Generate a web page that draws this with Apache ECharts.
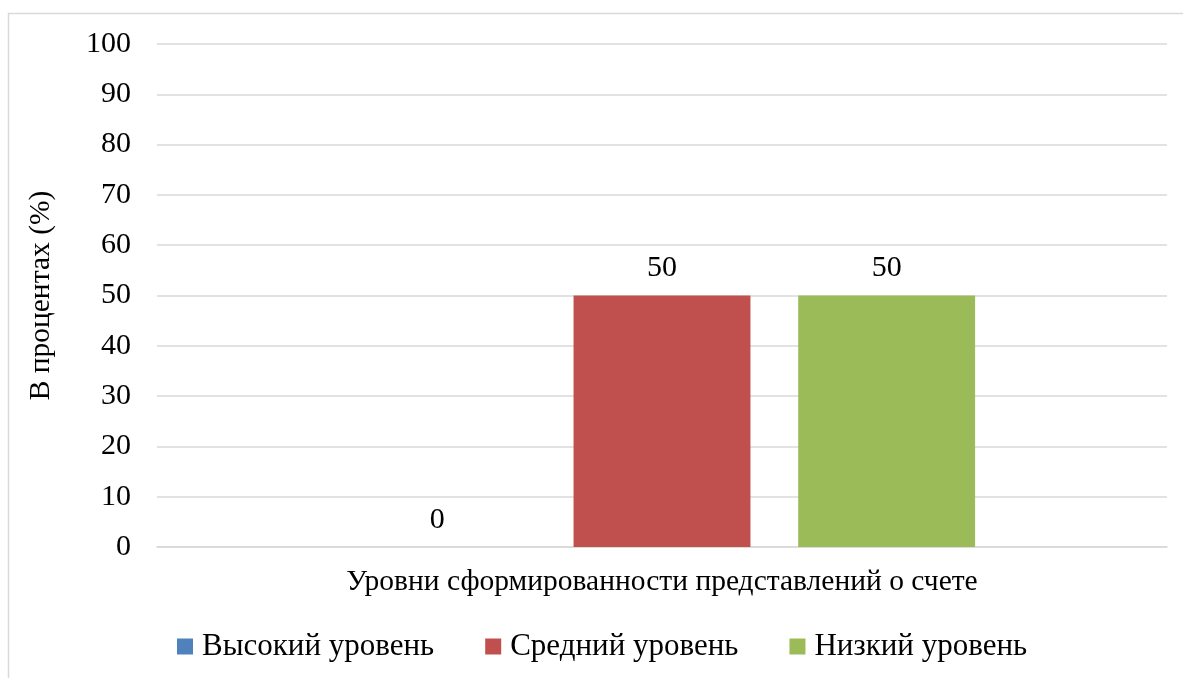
<!DOCTYPE html>
<html><head><meta charset="utf-8">
<script src="https://cdn.jsdelivr.net/npm/echarts@6/dist/echarts.min.js"></script>
<style>html,body{margin:0;padding:0;background:#fff}#c{width:1183px;height:678px}</style>
</head><body><div id="c"></div>
<script>
const categories = ['Уровни сформированности представлений о счете'];
const seriesNames = ['Высокий уровень', 'Средний уровень', 'Низкий уровень'];
const highValues = [0];
const midValues = [50];
const lowValues = [50];
const colors = ['#4F81BD', '#C0504D', '#9BBB59'];
const FONT = '"Liberation Serif","Times New Roman",serif';
const chart = echarts.init(document.getElementById('c'), null, {renderer: 'canvas'});
const values = [highValues, midValues, lowValues];
chart.setOption({
  animation: false,
  textStyle: {fontFamily: FONT, color: '#000'},
  graphic: [{type: 'rect', shape: {x: 8.5, y: 13.5, width: 1200, height: 700}, style: {fill: 'none', stroke: '#d9d9d9', lineWidth: 1.5}, silent: true, z: -1}],
  grid: {left: 157, right: 16, top: 44, bottom: 131},
  legend: {
    data: seriesNames, left: 172, top: 626, itemWidth: 16, itemHeight: 16, itemGap: 51,
    icon: 'rect',
    textStyle: {fontFamily: FONT, fontSize: 31, color: '#000', padding: [0, 0, 0, 4]}
  },
  xAxis: {
    type: 'category', data: [''],
    name: categories[0], nameLocation: 'middle', nameGap: 20,
    nameTextStyle: {fontFamily: FONT, fontSize: 29.5, color: '#000'},
    axisLine: {lineStyle: {color: '#d9d9d9', width: 1.5}},
    axisTick: {show: false}, axisLabel: {show: false}
  },
  yAxis: {
    type: 'value', min: 0, max: 100, interval: 10,
    name: 'В процентах (%)', nameLocation: 'middle', nameGap: 101, nameRotate: 90,
    nameTextStyle: {fontFamily: FONT, fontSize: 29.5, color: '#000'},
    axisLine: {show: false}, axisTick: {show: false},
    axisLabel: {fontFamily: FONT, fontSize: 30, color: '#000', margin: 26},
    splitLine: {lineStyle: {color: '#d9d9d9', width: 1.5}}
  },
  series: seriesNames.map((n, i) => ({
    name: n, type: 'bar', data: values[i],
    barCategoryGap: '38%', barGap: '27%',
    itemStyle: {color: colors[i]},
    label: {show: true, position: 'top', distance: 12, fontFamily: FONT, fontSize: 30, color: '#000'}
  }))
});
</script></body></html>
